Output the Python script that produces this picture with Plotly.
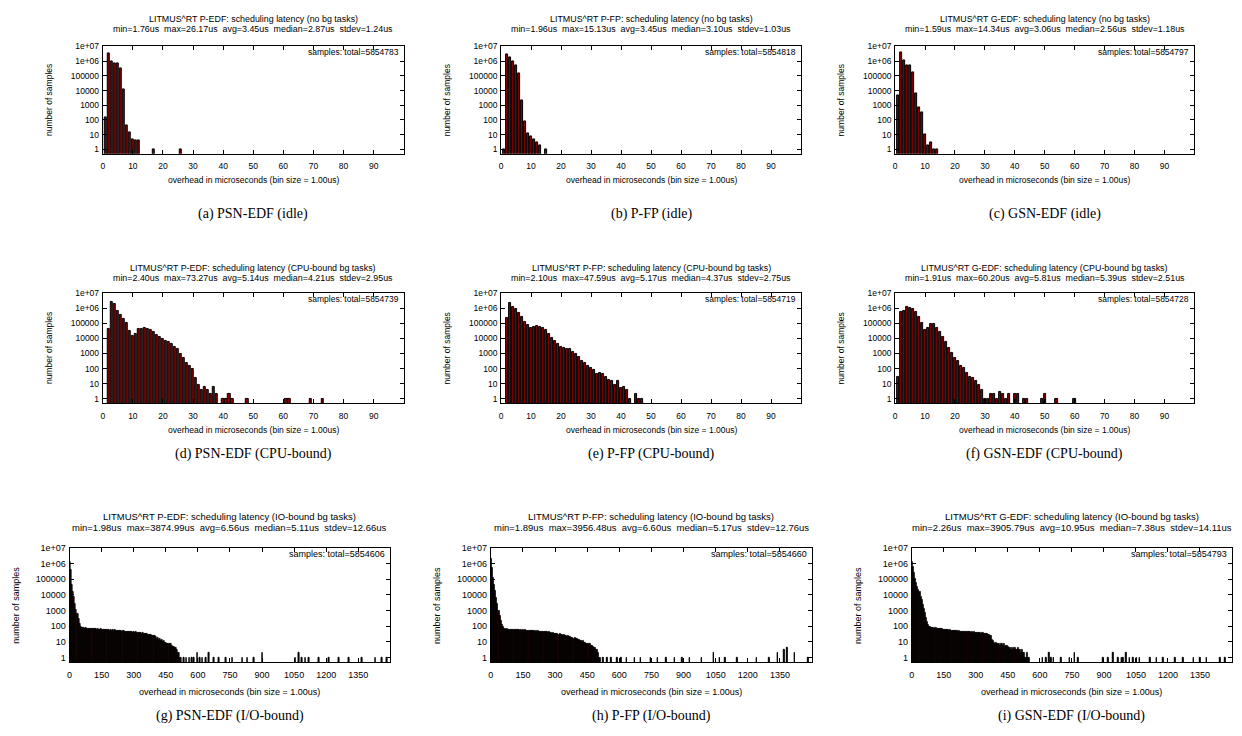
import plotly.graph_objects as go

# reference canvas size (px) and page offset caused by the default body margin
W, H = 1242, 736
OFF = 8
FW, FH = W - 2 * OFF, H - 2 * OFF

# ---------------- data ----------------
# (a) P-EDF idle
a_bins = [1, 2, 3, 4, 5, 6, 7, 8, 9, 10, 11, 12, 17, 26]
a_counts = [160, 3.2e6, 1.0e6, 7.0e5, 7.0e5, 3.0e5, 1.2e4, 40, 15, 5, 4, 4, 1, 1]
# (b) P-FP idle
b_bins = [1, 2, 3, 4, 5, 6, 7, 8, 9, 10, 11, 12, 13, 15]
b_counts = [1, 2.7e6, 1.7e6, 1.0e6, 5.5e5, 1.5e5, 2200, 85, 13, 8, 5, 3, 2, 1]
# (c) G-EDF idle
c_bins = [1, 2, 3, 4, 5, 6, 7, 8, 9, 10, 11, 12, 13, 14]
c_counts = [4500, 3.8e6, 1.1e6, 5.5e5, 5.0e5, 1.6e5, 6000, 750, 350, 11, 2, 3, 1, 1]
# (d) P-EDF CPU-bound
d_bins = list(range(2, 39)) + [40, 41, 42, 43, 48, 61, 62, 69, 73]
d_counts = [4.0e4, 2.4e6, 2.0e6, 6.7e5, 3.3e5, 2.0e5, 1.0e5, 3.2e4, 1.35e4, 1.9e4,
            3.9e4, 4.3e4, 4.8e4, 4.5e4, 3.7e4, 2.7e4, 1.7e4, 1.2e4, 9000, 6600,
            5400, 4000, 2800, 1950, 1000, 490, 250, 145, 100, 25,
            8, 4, 6, 4, 2, 6, 2,
            1, 1, 2, 1, 1, 1, 1, 1, 1]
# (e) P-FP CPU-bound
e_bins = list(range(2, 44)) + [45, 46, 47]
e_counts = [2.4e5, 2.2e6, 1.2e6, 8.3e5, 5.0e5, 2.6e5, 1.3e5, 7.6e4, 5.0e4, 5.9e4,
            6.8e4, 5.9e4, 4.8e4, 3.4e4, 2.0e4, 1.0e4, 6300, 4200, 2900, 2300,
            2000, 2000, 1350, 950, 575, 345, 230, 140, 107, 80,
            45, 50, 43, 30, 18, 15, 8, 16, 5, 6,
            4, 1, 2, 1, 1]
# (f) G-EDF CPU-bound
f_bins = list(range(1, 30)) + [30, 31, 32, 33, 34, 35, 36, 37, 38, 40, 41, 43, 44, 49, 50, 54, 60]
f_counts = [27, 5.5e5, 6.7e5, 1.2e6, 1.1e6, 8.7e5, 5.5e5, 2.7e5, 9.8e4, 3.5e4,
            5.0e4, 8.8e4, 8.8e4, 4.8e4, 2.6e4, 1.2e4, 5600, 2500, 1100, 490,
            300, 150, 107, 55, 30, 23, 15, 8, 4,
            1, 1, 2, 2, 1, 3, 2, 1, 2, 2, 2, 1, 1, 1, 2, 1, 1]

# I/O-bound: upper envelope per 5us group (starting at 0us), plus sparse outlier bins
GROUP_US = 5
g_groups = [1.2e6, 4e5, 4.4e4, 1.6e4, 7000, 2600, 1100, 620, 300, 150,
            95, 78, 74, 76, 72, 75, 70, 73, 68, 71,
            69, 66, 70, 64, 67, 62, 65, 63, 60, 64,
            61, 58, 62, 57, 60, 55, 58, 54, 57, 53,
            56, 52, 55, 50, 53, 49, 51, 48, 50, 46,
            48, 45, 47, 43, 46, 42, 44, 41, 43, 40,
            42, 39, 41, 37, 40, 36, 38, 34, 36, 32,
            34, 31, 33, 29, 30, 27, 28, 25, 26, 23,
            20, 16, 18, 14, 15, 12, 13, 10, 11, 9,
            9, 8, 8, 7, 7, 6, 5, 5, 4, 4,
            3, 2, 2, 1, 1]
g_out_x = [536, 547, 560, 572, 583, 599, 609, 622, 637, 653, 676, 700, 731, 762, 808,
           832, 863, 902, 1057, 1073, 1088, 1104, 1119, 1166, 1213, 1259, 1306, 1368,
           1430, 1461, 1485]
g_out_y = [1, 1, 1, 1, 1, 2, 1, 1, 1, 2, 1, 1, 1, 1, 1,
           1, 1, 2, 1, 2, 1, 1, 1, 1, 1, 1, 1, 1,
           1, 1, 1]

h_groups = [2.0e6, 5e5, 1.2e5, 4.5e4, 1.7e4, 6500, 2500, 950, 450, 210,
            120, 85, 72, 66, 62, 64, 60, 63, 59, 61,
            60, 57, 61, 56, 59, 55, 58, 54, 57, 53,
            56, 52, 55, 51, 54, 50, 53, 49, 52, 48,
            51, 47, 50, 46, 48, 45, 47, 43, 45, 42,
            44, 41, 42, 39, 41, 37, 39, 35, 37, 34,
            35, 32, 33, 30, 31, 28, 29, 26, 27, 24,
            25, 22, 23, 20, 21, 18, 19, 16, 17, 15,
            15, 13, 14, 11, 12, 10, 11, 9, 9, 8,
            8, 7, 7, 6, 6, 5, 4, 4, 3, 3,
            2, 1, 1]
h_out_x = [526, 545, 563, 590, 610, 636, 673, 700, 747, 780, 820, 860, 894, 930, 986,
           1041, 1070, 1096, 1151, 1243, 1300, 1340, 1370, 1385, 1420, 1482]
h_out_y = [1, 1, 1, 1, 1, 1, 1, 1, 1, 1, 1, 1, 1, 1, 1,
           2, 1, 1, 1, 1, 1, 2, 3, 4, 2, 1]

i_groups = [1.2e6, 6e5, 2.5e5, 1e5, 6e4, 3.5e4, 2.2e4, 1.5e4, 8000, 5000,
            2200, 1300, 700, 350, 200, 115, 95, 85, 80, 76,
            78, 72, 75, 70, 73, 68, 70, 66, 68, 63,
            62, 58, 60, 55, 57, 53, 55, 51, 53, 50,
            52, 48, 50, 46, 49, 45, 47, 44, 46, 43,
            45, 42, 44, 41, 43, 40, 42, 39, 41, 38,
            40, 37, 39, 36, 38, 35, 36, 33, 34, 31,
            32, 28, 29, 26, 24, 14, 12, 9, 8, 9,
            7, 8, 6, 8, 7, 6, 7, 5, 6, 6,
            5, 4, 4, 3, 4, 3, 4, 3, 3, 4,
            3, 3, 2, 3, 2, 2, 1, 1, 2, 1,
            1]
i_out_x = [614, 630, 643, 654, 665, 701, 740, 763, 779, 897, 920, 944, 967, 983, 991,
           1006, 1022, 1038, 1053, 1069, 1116, 1147, 1179, 1234, 1273, 1320, 1351, 1382,
           1445, 1469]
i_out_y = [1, 1, 2, 1, 1, 1, 1, 2, 1, 1, 1, 2, 1, 1, 1,
           2, 1, 1, 1, 1, 1, 1, 1, 1, 1, 1, 1, 1,
           1, 1]

y_tickvals = [1, 10, 100, 1000, 10000, 100000, 1e6, 1e7]
y_ticktext = ["1", "10", "100", "1000", "10000", "100000", "1e+06", "1e+07"]
x_ticks_small = [0, 10, 20, 30, 40, 50, 60, 70, 80, 90]
x_ticks_io = [0, 150, 300, 450, 600, 750, 900, 1050, 1200, 1350]

S = "\u00a0 "  # double space as in gnuplot labels
panels = [
    dict(kind="bins", x=a_bins, y=a_counts,
         t1="LITMUS^RT P-EDF: scheduling latency (no bg tasks)",
         t2=S.join(["min=1.76us", "max=26.17us", "avg=3.45us", "median=2.87us", "stdev=1.24us"]),
         total="5854783", cap="(a) PSN-EDF (idle)", box=(100, 401.7, 41.7, 150)),
    dict(kind="bins", x=b_bins, y=b_counts,
         t1="LITMUS^RT P-FP: scheduling latency (no bg tasks)",
         t2=S.join(["min=1.96us", "max=15.13us", "avg=3.45us", "median=3.10us", "stdev=1.03us"]),
         total="5854818", cap="(b) P-FP (idle)", box=(499.3, 800, 41.7, 150)),
    dict(kind="bins", x=c_bins, y=c_counts,
         t1="LITMUS^RT G-EDF: scheduling latency (no bg tasks)",
         t2=S.join(["min=1.59us", "max=14.34us", "avg=3.06us", "median=2.56us", "stdev=1.18us"]),
         total="5854797", cap="(c) GSN-EDF (idle)", box=(894.3, 1194.3, 41.7, 150)),
    dict(kind="bins", x=d_bins, y=d_counts,
         t1="LITMUS^RT P-EDF: scheduling latency (CPU-bound bg tasks)",
         t2=S.join(["min=2.40us", "max=73.27us", "avg=5.14us", "median=4.21us", "stdev=2.95us"]),
         total="5854739", cap="(d) PSN-EDF (CPU-bound)", box=(100, 401.7, 290.3, 401.7)),
    dict(kind="bins", x=e_bins, y=e_counts,
         t1="LITMUS^RT P-FP: scheduling latency (CPU-bound bg tasks)",
         t2=S.join(["min=2.10us", "max=47.59us", "avg=5.17us", "median=4.37us", "stdev=2.75us"]),
         total="5854719", cap="(e) P-FP (CPU-bound)", box=(499.3, 800, 290.3, 401.7)),
    dict(kind="bins", x=f_bins, y=f_counts,
         t1="LITMUS^RT G-EDF: scheduling latency (CPU-bound bg tasks)",
         t2=S.join(["min=1.91us", "max=60.20us", "avg=5.81us", "median=5.39us", "stdev=2.51us"]),
         total="5854728", cap="(f) GSN-EDF (CPU-bound)", box=(894.3, 1194.3, 290.3, 401.7)),
    dict(kind="io", groups=g_groups, ox=g_out_x, oy=g_out_y,
         t1="LITMUS^RT P-EDF: scheduling latency (IO-bound bg tasks)",
         t2=S.join(["min=1.98us", "max=3874.99us", "avg=6.56us", "median=5.11us", "stdev=12.66us"]),
         total="5854606", cap="(g) PSN-EDF (I/O-bound)", box=(66.7, 388.3, 547.3, 662.7)),
    dict(kind="io", groups=h_groups, ox=h_out_x, oy=h_out_y,
         t1="LITMUS^RT P-FP: scheduling latency (IO-bound bg tasks)",
         t2=S.join(["min=1.89us", "max=3956.48us", "avg=6.60us", "median=5.17us", "stdev=12.76us"]),
         total="5854660", cap="(h) P-FP (I/O-bound)", box=(489, 811, 547.3, 662.7)),
    dict(kind="io", groups=i_groups, ox=i_out_x, oy=i_out_y,
         t1="LITMUS^RT G-EDF: scheduling latency (IO-bound bg tasks)",
         t2=S.join(["min=2.26us", "max=3905.79us", "avg=10.95us", "median=7.38us", "stdev=14.11us"]),
         total="5854793", cap="(i) GSN-EDF (I/O-bound)", box=(911, 1232, 547.3, 662.7)),
]

row_text = {  # y positions (px) of title lines, x axis title, caption; font sizes
    0: dict(t1=14, t2=24.5, xt=176, cap=211, fs=8.9, tfs=8.5),
    1: dict(t1=265, t2=275, xt=428, cap=453, fs=8.9, tfs=8.5),
    2: dict(t1=515.5, t2=527, xt=693, cap=717, fs=9.5, tfs=9.0),
}

SANS = "Liberation Sans, Arial, sans-serif"
SERIF = "Liberation Serif, Times New Roman, serif"
RED = "#8b0000"

fig = go.Figure()
annotations = []


def px2x(v):
    return (v - OFF) / FW


def px2y(v):
    return 1 - (v - OFF) / FH


for k, p in enumerate(panels):
    n = k + 1
    xa = "x" if n == 1 else f"x{n}"
    ya = "y" if n == 1 else f"y{n}"
    row = k // 3
    rt = row_text[row]
    x0, x1, y0, y1 = p["box"]

    if p["kind"] == "bins":
        fig.add_trace(go.Bar(x=p["x"], y=p["y"], width=0.75, xaxis=xa, yaxis=ya,
                             marker=dict(color=RED, line=dict(color="black", width=1)),
                             showlegend=False, hoverinfo="x+y"))
        xr = [0, 100]
        xt = x_ticks_small
    else:
        gx = [GROUP_US * j + GROUP_US / 2 for j in range(len(p["groups"]))]
        fig.add_trace(go.Bar(x=gx, y=p["groups"], width=GROUP_US, xaxis=xa, yaxis=ya,
                             marker=dict(color="#1a0000", line=dict(color="black", width=0.8)),
                             showlegend=False, hoverinfo="x+y"))
        fig.add_trace(go.Bar(x=p["ox"], y=p["oy"], width=2.5, xaxis=xa, yaxis=ya,
                             marker=dict(color="black", line=dict(color="black", width=1)),
                             showlegend=False, hoverinfo="x+y"))
        xr = [0, 1500]
        xt = x_ticks_io

    common = dict(showline=True, linecolor="black", linewidth=1, mirror="ticks",
                  ticks="inside", ticklen=4, tickcolor="black", tickwidth=1,
                  showgrid=False, zeroline=False,
                  tickfont=dict(family=SANS, size=rt["tfs"], color="black"))
    fig.layout[f"xaxis{'' if n == 1 else n}"] = dict(
        domain=[px2x(x0), px2x(x1)], range=xr, tickvals=xt, anchor=ya,
        ticklabelstandoff=4, **common)
    fig.layout[f"yaxis{'' if n == 1 else n}"] = dict(
        domain=[px2y(y1), px2y(y0)], type="log", range=[-0.301, 7.0],
        tickvals=y_tickvals, ticktext=y_ticktext, anchor=xa,
        ticklabelstandoff=1, **common)

    cx = (x0 + x1) / 2

    def ann(text, x, y, size, family=SANS, xanchor="center", angle=0):
        annotations.append(dict(text=text, x=px2x(x), y=px2y(y), xref="paper", yref="paper",
                                showarrow=False, xanchor=xanchor, yanchor="middle",
                                textangle=angle,
                                font=dict(family=family, size=size, color="black")))

    ann(p["t1"], cx, rt["t1"], rt["fs"])
    ann(p["t2"], cx, rt["t2"], rt["fs"])
    ann("samples: total=" + p["total"], x1 - 3, y0 + 6, rt["tfs"], xanchor="right")
    ann("overhead in microseconds (bin size = 1.00us)", cx, rt["xt"], rt["tfs"])
    ann("number of samples", x0 - 54, (y0 + y1) / 2, rt["tfs"], angle=-90)
    ann(p["cap"], cx, rt["cap"], 14, family=SERIF)

fig.update_layout(width=FW, height=FH, autosize=False,
                  margin=dict(l=0, r=0, t=0, b=0),
                  paper_bgcolor="white", plot_bgcolor="white",
                  bargap=0, annotations=annotations, showlegend=False)

fig.write_html("out.html")
